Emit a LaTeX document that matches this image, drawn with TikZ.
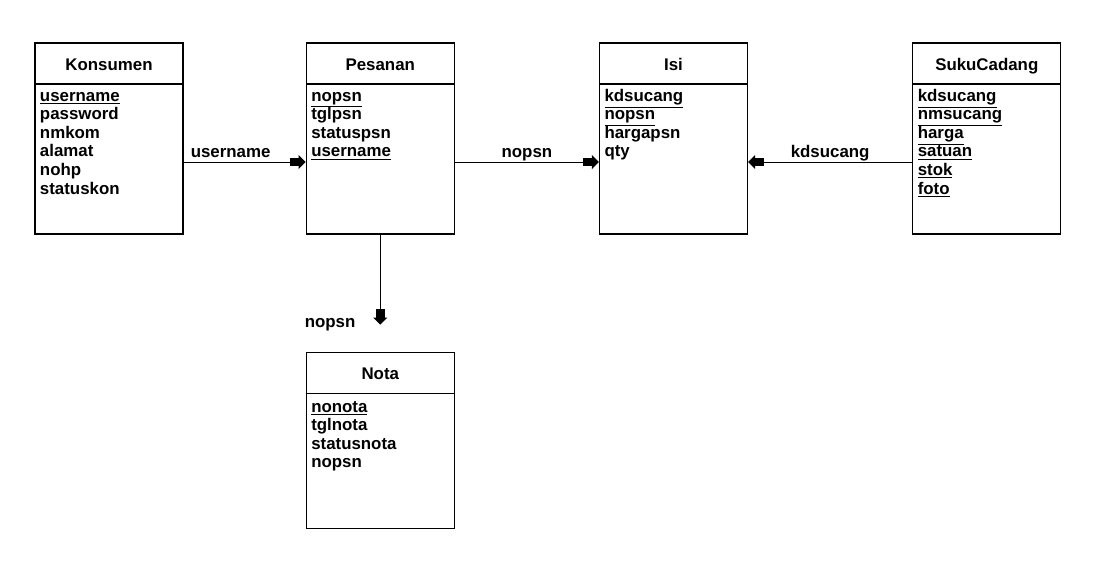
\documentclass[tikz,border=0pt]{standalone}
\usepackage{fontspec}
\setmainfont{Liberation Sans}
\usetikzlibrary{arrows.meta, positioning}
\setlength{\lineskiplimit}{-10pt}
\tikzstyle{entity} = [rectangle, draw, line width=0.9pt, minimum width=3.7cm, minimum height=4.775cm, inner sep=0pt]
\tikzstyle{title} = [rectangle, draw, line width=0.9pt, minimum width=3.7cm, minimum height=1.025cm, inner sep=0pt, text height=10pt, text depth=0pt]
\tikzstyle{attrs} = [align=left, inner sep=0pt, anchor=north west]
\tikzstyle{link} = [line width=0.7pt, -{Rectangle[length=6pt,width=6pt,sep=0pt]Triangle[length=5pt,width=10pt]}]
\tikzstyle{linklabel} = [anchor=base, yshift=3.3pt, inner sep=0pt]
\newcommand{\pkey}[1]{\underline{#1}}

\begin{document}
\begin{tikzpicture}[font=\bfseries\fontsize{12}{13.2}\selectfont]
\useasboundingbox (0,0) rectangle (27.5,-14.6);
%Tables
\node (konsumen) [entity] at (2.725,-3.4625) {};
\node (pesanan) [entity, right = 3.05cm of konsumen] {};
\node (isi) [entity, right = 3.6cm of pesanan] {};
\node (sukucadang) [entity, right = 4.1cm of isi] {};
\node (nota) [entity, minimum height=4.4cm, below = 2.925cm of pesanan] {};
%Headers
\node (konsumenhead) [title, below = 0pt of konsumen.north] {Konsumen};
\node (pesananhead) [title, below = 0pt of pesanan.north] {Pesanan};
\node (isihead) [title, below = 0pt of isi.north] {Isi};
\node (sukucadanghead) [title, below = 0pt of sukucadang.north] {SukuCadang};
\node (notahead) [title, below = 0pt of nota.north] {Nota};
%Attributes
\node (konsumenattr) [attrs, below right = 2.4pt and 3.8pt of konsumenhead.south west] {\strut\pkey{username}\\password\\nmkom\\alamat\\nohp\\statuskon};
\node (pesananattr) [attrs, below right = 2.4pt and 3.8pt of pesananhead.south west] {\strut\pkey{nopsn}\\tglpsn\\statuspsn\\\pkey{username}};
\node (isiattr) [attrs, below right = 2.4pt and 3.8pt of isihead.south west] {\strut\pkey{kdsucang}\\\pkey{nopsn}\\hargapsn\\qty};
\node (sukucadangattr) [attrs, below right = 2.4pt and 3.8pt of sukucadanghead.south west] {\strut\pkey{kdsucang}\\\pkey{nmsucang}\\\pkey{harga}\\\pkey{satuan}\\\pkey{stok}\\\pkey{foto}};
\node (notaattr) [attrs, below right = 3.5pt and 3.8pt of notahead.south west] {\strut\pkey{nonota}\\tglnota\\statusnota\\nopsn};
%Relations
\draw [link] ([yshift=-0.5875cm]konsumen.east) -- node (usernamelabel) [linklabel, pos=0.385] {username} ([yshift=-0.5875cm]pesanan.west);
\draw [link] ([yshift=-0.5875cm]pesanan.east) -- node (nopsnlabel) [linklabel] {nopsn} ([yshift=-0.5875cm]isi.west);
\draw [link] ([yshift=-0.5875cm]sukucadang.west) -- node (kdsucanglabel) [linklabel] {kdsucang} ([yshift=-0.5875cm]isi.east);
\coordinate (notaend) at ([yshift=-2.25cm]pesanan.south);
\draw [link] (pesanan.south) -- (notaend) node (notalabel) [anchor=east, xshift=-14pt] {nopsn};
\end{tikzpicture}
\end{document}
